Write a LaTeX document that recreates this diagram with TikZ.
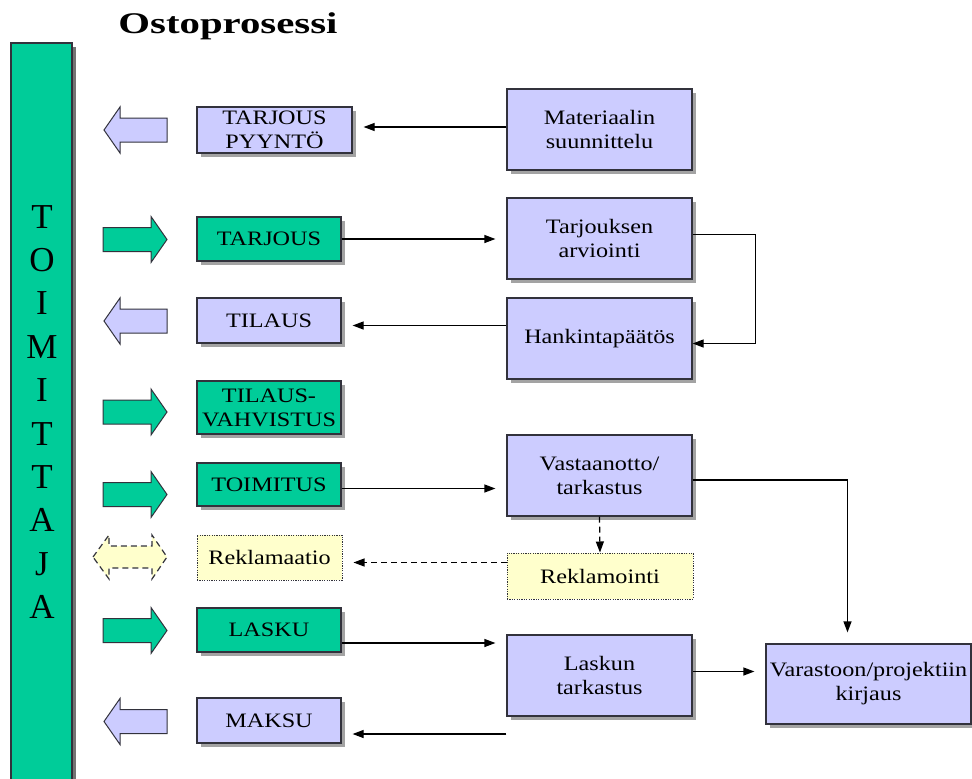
\documentclass[tikz,border=0pt]{standalone}
\usepackage{fontspec}
\setmainfont{Liberation Serif}[FakeStretch=1.18]
\newfontfamily\titlefont{Liberation Serif}[FakeStretch=1.36]
\newfontfamily\barfont{Liberation Serif}
\usetikzlibrary{arrows.meta,shadows}
\definecolor{lav}{RGB}{204,204,255}
\definecolor{grn}{RGB}{0,204,153}
\definecolor{yel}{RGB}{255,255,204}
\definecolor{edge}{RGB}{50,50,60}
\tikzset{
 shad/.style={drop shadow={shadow xshift=4pt,shadow yshift=-4pt,fill=black!60,opacity=0.6}},
 boxbase/.style={draw=edge,line width=1.2pt,inner sep=0pt,align=center,font=\fontsize{20.5}{24}\selectfont},
 lavbox/.style={boxbase,fill=lav,shad},
 grnbox/.style={boxbase,fill=grn,shad},
 yelbox/.style={boxbase,fill=yel,dash pattern=on 1.2pt off 1.2pt,line width=1pt},
 conn/.style={draw=black,line width=1.2pt,-{Triangle[length=11pt,width=8pt]},shorten >=11pt},
 dconn/.style={conn,dash pattern=on 6pt off 4pt},
 rarrow/.style={fill=grn,draw=edge,line width=1pt},
 larrow/.style={fill=lav,draw=edge,line width=1pt},
 darrow/.style={fill=yel,draw=edge,line width=1.2pt,dash pattern=on 6pt off 4pt},
}
\newcommand{\rarr}[1]{\draw[rarrow] (103,#1-12) -- (151,#1-12) -- (151,#1-23) -- (167,#1) -- (151,#1+23) -- (151,#1+12) -- (103,#1+12) -- cycle;}
\newcommand{\larr}[1]{\draw[larrow] (167,#1-12) -- (120,#1-12) -- (120,#1-23) -- (104,#1) -- (120,#1+23) -- (120,#1+12) -- (167,#1+12) -- cycle;}
\begin{document}
\begin{tikzpicture}[x=1pt,y=-1pt]
\useasboundingbox (0,0) rectangle (972,779);
% title
\node[anchor=base,font=\titlefont\bfseries\fontsize{30}{36}\selectfont] (title) at (228,33) {Ostoprosessi};
% supplier bar
\fill[black!55] (72,47) rectangle (76,779);
\fill[grn] (11,43) rectangle (72,779);
\draw[edge,line width=1.2pt] (11,779) -- (11,43) -- (72,43) -- (72,779);
\foreach \l [count=\i from 0] in {T,O,I,M,I,T,T,A,J,A}
  \node[anchor=base,font=\barfont\fontsize{35}{40}\selectfont,inner sep=0pt] (t\i) at (42,{228+43.4*\i}) {\l};
% block arrows
\larr{130}
\rarr{239.5}
\larr{321}
\rarr{412}
\rarr{494.5}
\draw[darrow] (93,557) -- (109,535) -- (109,546) -- (152,546) -- (152,535) -- (167,557) -- (152,579) -- (152,568) -- (109,568) -- (109,579) -- cycle;
\rarr{630.5}
\larr{721.5}
% left boxes
\node[lavbox,minimum width=155,minimum height=46] (tp) at (274.5,130) {TARJOUS\\PYYNTÖ};
\node[grnbox,minimum width=144,minimum height=44] (tarj) at (269,239) {TARJOUS};
\node[lavbox,minimum width=144,minimum height=45] (til) at (269,320.5) {TILAUS};
\node[grnbox,minimum width=144,minimum height=53] (tv) at (269,407.5) {TILAUS-\\VAHVISTUS};
\node[grnbox,minimum width=144,minimum height=43] (toim) at (269,484.5) {TOIMITUS};
\node[yelbox,minimum width=145,minimum height=45] (rekl) at (269.5,557.5) {Reklamaatio};
\node[grnbox,minimum width=144,minimum height=44] (lasku) at (269,630) {LASKU};
\node[lavbox,minimum width=144,minimum height=45] (maksu) at (269,720.5) {MAKSU};
% right boxes
\node[lavbox,minimum width=185,minimum height=81] (mat) at (599.5,129.5) {Materiaalin\\suunnittelu};
\node[lavbox,minimum width=185,minimum height=81] (tarv) at (599.5,238.5) {Tarjouksen\\arviointi};
\node[lavbox,minimum width=185,minimum height=81] (hank) at (599.5,338.5) {Hankintapäätös};
\node[lavbox,minimum width=185,minimum height=81] (vast) at (599.5,475.5) {Vastaanotto/\\tarkastus};
\node[yelbox,minimum width=186,minimum height=46] (reko) at (600,576) {Reklamointi};
\node[lavbox,minimum width=185,minimum height=81] (lt) at (599.5,675.5) {Laskun\\tarkastus};
\node[lavbox,minimum width=205,minimum height=80] (var) at (868.5,684) {Varastoon/projektiin\\kirjaus};
% connectors
\coordinate (c1) at ([yshift=3pt]tp.east);
\draw[conn] (c1 -| mat.west) -- (c1);
\draw[conn] (tarj.east) -- (tarj.east -| tarv.west);
\coordinate (c2) at ([yshift=-5pt]til.east);
\draw[conn] (c2 -| hank.west) -- (c2);
\draw[conn,shorten >=0pt] ([yshift=4pt]tarv.east) -- ++(63,0) |- ([yshift=-5pt]hank.east);
\coordinate (c3) at ([yshift=-4pt]toim.east);
\draw[conn] (c3) -- (c3 -| vast.west);
\draw[dconn,shorten >=0pt] (vast.south) -- (reko.north);
\coordinate (c4) at ([yshift=-5pt]rekl.east);
\draw[dconn] (c4 -| reko.west) -- (c4);
\draw[conn] ([yshift=-4.5pt]vast.east) -| ([xshift=-21pt]var.north);
\coordinate (c5) at ([yshift=-13pt]lasku.east);
\draw[conn] (c5) -- (c5 -| lt.west);
\coordinate (c6) at ([yshift=-13.5pt]maksu.east);
\draw[conn] (c6 -| lt.west) -- (c6);
\coordinate (c7) at ([yshift=4pt]lt.east);
\draw[conn] (c7) -- (c7 -| var.west);
\end{tikzpicture}
\end{document}
